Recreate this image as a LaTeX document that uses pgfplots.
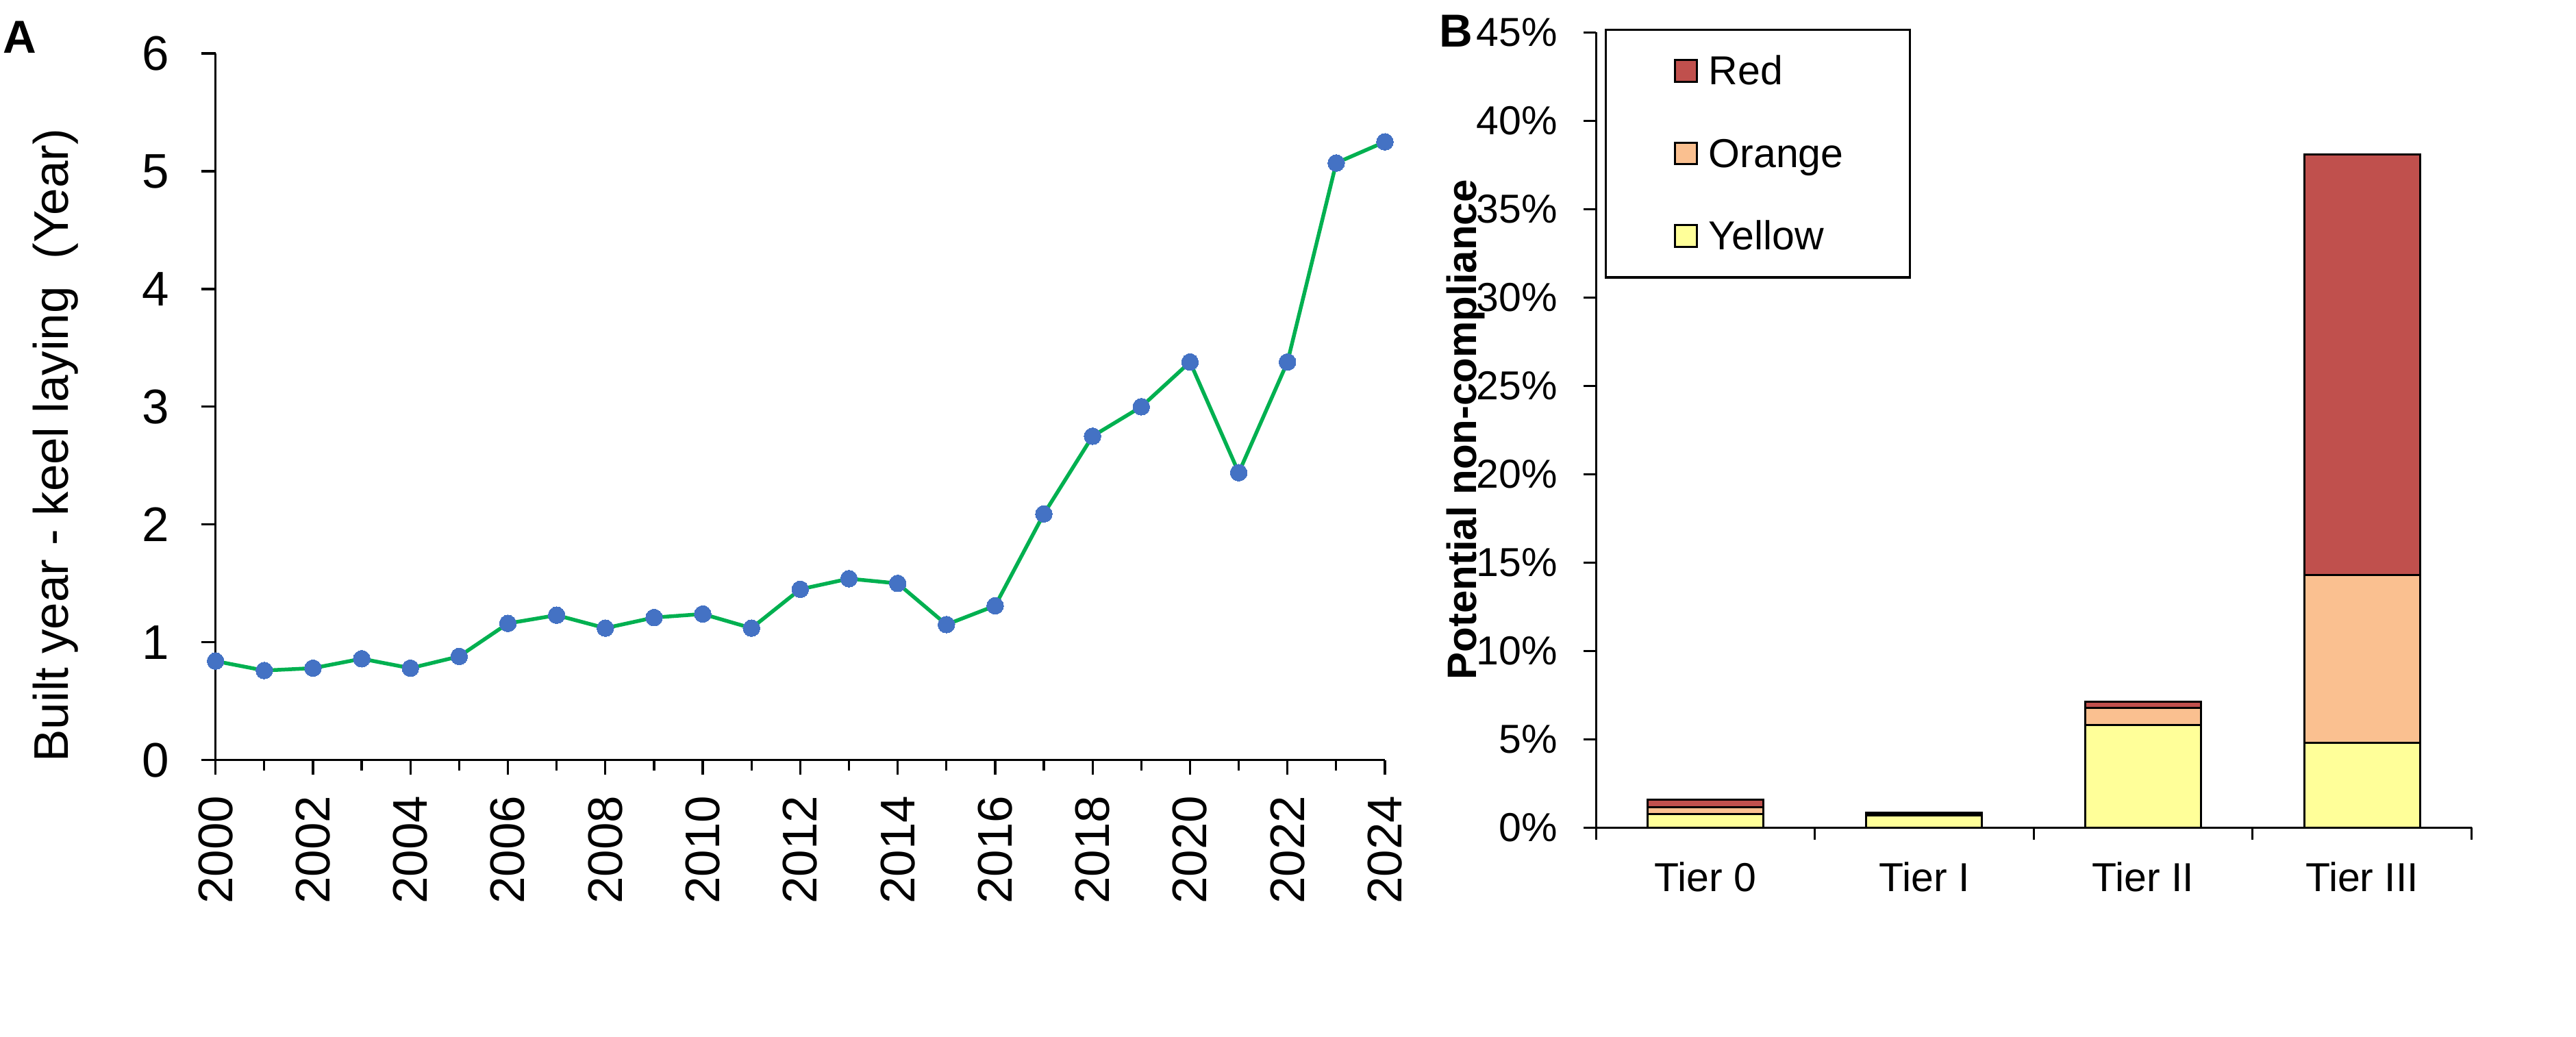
\documentclass[border=0pt]{standalone}
\usepackage{fontspec}
\setmainfont{Liberation Sans}
\usepackage{pgfplots}
\pgfplotsset{compat=1.18}
\definecolor{lgreen}{RGB}{0,176,80}
\definecolor{mblue}{RGB}{68,114,196}
\definecolor{cred}{RGB}{192,80,77}
\definecolor{corange}{RGB}{250,192,144}
\definecolor{cyellow}{RGB}{255,255,153}
\pgfplotsset{sqlegend/.style={legend image code/.code={\path[draw=none,fill=none] (0pt,-12.05pt) rectangle (26.6pt,12.05pt); \draw[##1,draw=black,line width=0.6pt] (20.3pt,-3.15pt) rectangle (26.6pt,3.15pt);}}}
\begin{document}
\begin{tikzpicture}
\useasboundingbox (0,0) rectangle (752.2pt,302.6pt);
\node[anchor=base west, inner sep=0pt, font=\bfseries\fontsize{13.5}{16}\selectfont] at (0.8pt,287pt) {A};
\node[anchor=base west, inner sep=0pt, font=\bfseries\fontsize{13.5}{16}\selectfont] at (420pt,288.8pt) {B};
\begin{axis}[
  at={(62.94pt,80.68pt)}, anchor=south west,
  scale only axis, width=341.46pt, height=206.3pt,
  xmin=2000, xmax=2024, ymin=0, ymax=6,
  axis x line*=bottom, axis y line*=left,
  axis line style={line width=0.65pt},
  tick align=outside,
  xtick={2000,2002,...,2024},
  minor xtick={2001,2003,...,2023},
  ytick={0,1,...,6},
  major tick length=4.2pt, minor tick length=3pt,
  tick style={line width=0.65pt, black},
  /pgf/number format/assume math mode=true,
  /pgf/number format/1000 sep={},
  tick label style={font=\fontsize{14.2}{17}\selectfont},
  xticklabel style={rotate=90, anchor=east, inner sep=0pt, xshift=-6pt},
  yticklabel style={anchor=east, inner sep=0pt, xshift=-9.2pt},
  ylabel={Built year - keel laying\ \ (Year)},
  every axis y label/.style={at={(axis description cs:-0.1258,0.4455)}, rotate=90, anchor=base, font=\fontsize{14.2}{17}\selectfont},
  clip=false,
]
\draw[line width=0.65pt] (axis cs:2000,0) -- ++(-4.2pt,0pt);
\addplot[color=lgreen, line width=1.1pt, mark=*, mark size=2.45pt, mark options={fill=mblue, draw=mblue, line width=0pt}] coordinates {
(2000,0.84) (2001,0.76) (2002,0.78) (2003,0.86) (2004,0.78) (2005,0.88)
(2006,1.16) (2007,1.23) (2008,1.12) (2009,1.21) (2010,1.24) (2011,1.12)
(2012,1.45) (2013,1.54) (2014,1.50) (2015,1.15) (2016,1.31) (2017,2.09)
(2018,2.75) (2019,3.00) (2020,3.38) (2021,2.44) (2022,3.38) (2023,5.07)
(2024,5.25)};
\end{axis}
\begin{axis}[
  at={(466pt,61pt)}, anchor=south west,
  scale only axis, width=255.7pt, height=232.2pt,
  ybar stacked, bar width=33.8pt,
  sqlegend,
  xmin=-0.5, xmax=3.5, ymin=0, ymax=45,
  axis x line*=bottom, axis y line*=left,
  axis line style={line width=0.6pt},
  tick align=outside,
  xtick={0,1,2,3}, xticklabels={Tier 0,Tier I,Tier II,Tier III},
  minor xtick={-0.5,0.5,1.5,2.5,3.5},
  ytick={0,5,...,45},
  yticklabel={\pgfmathprintnumber{\tick}\%},
  major tick length=3.6pt, minor tick length=3.6pt,
  tick style={line width=0.6pt, black},
  major x tick style={draw=none},
  /pgf/number format/assume math mode=true,
  tick label style={font=\fontsize{11.8}{14}\selectfont},
  xticklabel style={anchor=base, inner sep=0pt, yshift=-15pt},
  yticklabel style={anchor=east, inner sep=0pt, xshift=-7.4pt},
  ylabel={Potential non-compliance},
  every axis y label/.style={at={(axis description cs:-0.1369,0.5)}, rotate=90, anchor=base, font=\bfseries\fontsize{12}{14}\selectfont},
  legend style={at={(axis description cs:0.00986,1.0045)}, anchor=north west, draw=black, line width=0.65pt, inner xsep=0pt, inner ysep=0pt, row sep=0pt, font=\fontsize{11.8}{14}\selectfont, nodes={inner sep=0pt}, /tikz/every odd column/.append style={column sep=3.2pt}},
  legend cell align=left,
  reverse legend,
  clip=false,
]
\draw[line width=0.6pt] (axis cs:-0.5,0) -- ++(-3.6pt,0pt);
\addplot[fill=cyellow, draw=black, line width=0.6pt] coordinates {(0,0.75) (1,0.66) (2,5.79) (3,4.79)};
\addlegendentry{\makebox[58.8pt][l]{\rule[-7.85pt]{0pt}{24.1pt}\raisebox{3.4pt}{Yellow}}}
\addplot[fill=corange, draw=black, line width=0.6pt] coordinates {(0,0.38) (1,0.10) (2,0.99) (3,9.50)};
\addlegendentry{\makebox[58.8pt][l]{\rule[-7.85pt]{0pt}{24.1pt}\raisebox{3.4pt}{Orange}}}
\addplot[fill=cred, draw=black, line width=0.6pt] coordinates {(0,0.44) (1,0.09) (2,0.32) (3,23.81)};
\addlegendentry{\makebox[58.8pt][l]{\rule[-7.85pt]{0pt}{24.1pt}\raisebox{3.4pt}{Red}}}
\end{axis}
\end{tikzpicture}
\end{document}
